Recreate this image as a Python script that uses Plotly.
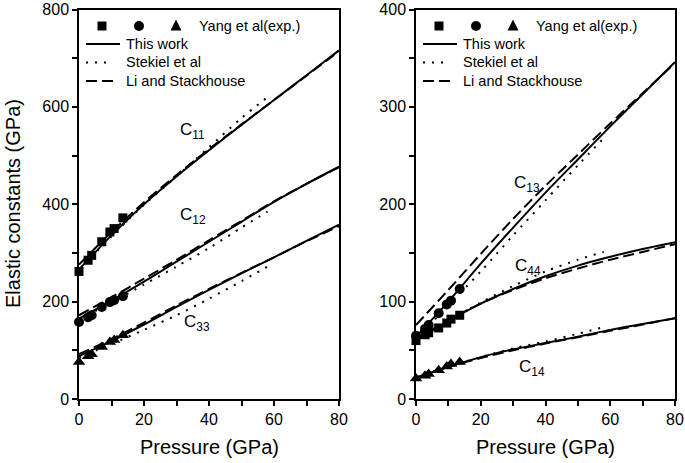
import plotly.graph_objects as go

W, H = 685, 463

# ---------------- data ----------------
P_line = [0, 10, 20, 30, 40, 50, 60, 70, 80]
P_stek = [0, 10, 20, 30, 40, 50, 58]
P_exp = [0, 2.8, 3.9, 7.0, 9.5, 10.8, 13.5]

# left panel (C11, C12, C33)
c11_this = [266, 336, 400, 457, 511, 563, 614, 665, 716]
c11_li = [276, 343, 404, 460, 513, 564, 614, 664, 714]
c11_stek = [264, 334, 399, 457, 517, 577, 620]
c12_this = [165, 202, 241, 282, 323, 364, 405, 442, 477]
c12_li = [172, 209, 247, 286, 326, 366, 406, 442, 476]
c12_stek = [163, 198, 235, 272, 310, 352, 385]
c33_this = [88, 119, 153, 189, 224, 258, 291, 325, 358]
c33_li = [92, 123, 157, 192, 226, 259, 291, 324, 355]
c33_stek = [85, 113, 142, 172, 206, 242, 272]

c11_exp = [262, 285, 295, 323, 343, 350, 372]
c12_exp = [158, 168, 172, 189, 199, 203, 211]
c33_exp = [76, 88, 92, 107, 117, 121, 131]

# right panel (C13, C44, C14)
c13_this = [64, 100, 139, 176, 212, 246, 280, 313, 346]
c13_li = [76, 112, 149, 185, 219, 251, 283, 314, 345]
c13_stek = [62, 96, 131, 168, 204, 240, 268]
c44_this = [60, 80, 98, 113, 126, 137, 146, 154, 161]
c44_li = [62, 81, 98, 112, 124, 134, 143, 151, 159]
c44_stek = [60, 80, 99, 116, 131, 143, 151]
c14_this = [22, 33, 43, 51, 57.5, 64, 71, 77, 83]
c14_li = [22, 33, 42, 50, 57, 63.5, 70, 76.5, 83]
c14_stek = [22, 33, 43, 52, 59, 67, 74]

c13_exp = [65, 72, 76, 88, 97, 101, 113]
c44_exp = [60, 66, 68, 73, 78, 82, 86]
c14_exp = [21, 24, 25.6, 29.5, 33.5, 36, 38]

# curve labels: (text, P, value)
labels_left = [("C<sub>11</sub>", 34.8, 550), ("C<sub>12</sub>", 35.1, 375), ("C<sub>33</sub>", 36.3, 156)]
labels_right = [("C<sub>13</sub>", 34.3, 221), ("C<sub>44</sub>", 34.6, 136), ("C<sub>14</sub>", 35.8, 32)]

legend_exp = "Yang et al(exp.)"
legend_lines = ["This work", "Stekiel et al", "Li and Stackhouse"]

# ---------------- styles ----------------
FONT = "Liberation Sans, Arial, sans-serif"
DOT = "2px,7px"
DASH = "11px,5px"
LW = 2

fig = go.Figure()


def add_panel(xa, ya, this, li, stek, exps, symbols):
    for s in this:
        fig.add_trace(go.Scatter(x=P_line, y=s, mode="lines", xaxis=xa, yaxis=ya,
                                 line=dict(color="black", width=LW, shape="spline", smoothing=0.8),
                                 showlegend=False))
    for s in li:
        fig.add_trace(go.Scatter(x=P_line, y=s, mode="lines", xaxis=xa, yaxis=ya,
                                 line=dict(color="black", width=LW, dash=DASH, shape="spline", smoothing=0.8),
                                 showlegend=False))
    for s in stek:
        fig.add_trace(go.Scatter(x=P_stek, y=s, mode="lines", xaxis=xa, yaxis=ya,
                                 line=dict(color="black", width=LW, dash=DOT, shape="spline", smoothing=0.8),
                                 showlegend=False))
    for s, sym in zip(exps, symbols):
        size = {"square": 9, "circle": 10, "triangle-up": 11}[sym]
        fig.add_trace(go.Scatter(x=P_exp, y=s, mode="markers", xaxis=xa, yaxis=ya,
                                 marker=dict(symbol=sym, size=size, color="black"),
                                 cliponaxis=False, showlegend=False))


add_panel("x", "y", [c11_this, c12_this, c33_this], [c11_li, c12_li, c33_li],
          [c11_stek, c12_stek, c33_stek], [c11_exp, c12_exp, c33_exp],
          ["square", "circle", "triangle-up"])
add_panel("x2", "y2", [c13_this, c44_this, c14_this], [c13_li, c44_li, c14_li],
          [c13_stek, c44_stek, c14_stek], [c13_exp, c44_exp, c14_exp],
          ["circle", "square", "triangle-up"])

annotations = []
for txt, px_, v in labels_left:
    annotations.append(dict(text=txt, x=px_, y=v, xref="x", yref="y", showarrow=False,
                            xanchor="center", yanchor="middle",
                            font=dict(family=FONT, size=17, color="black")))
for txt, px_, v in labels_right:
    annotations.append(dict(text=txt, x=px_, y=v, xref="x2", yref="y2", showarrow=False,
                            xanchor="center", yanchor="middle",
                            font=dict(family=FONT, size=17, color="black")))


def fx(p):
    return p / W


def fy(p):
    return 1 - p / H


shapes = []


def add_legend(x0):
    # x0: left pixel of the axes
    ym = 26
    s = 4.5
    cx = x0 + 23
    shapes.append(dict(type="rect", xref="paper", yref="paper", x0=fx(cx - s), x1=fx(cx + s),
                       y0=fy(ym + s), y1=fy(ym - s), fillcolor="black", line=dict(width=0)))
    cx = x0 + 60
    r = 5
    shapes.append(dict(type="circle", xref="paper", yref="paper", x0=fx(cx - r), x1=fx(cx + r),
                       y0=fy(ym + r), y1=fy(ym - r), fillcolor="black", line=dict(width=0)))
    cx = x0 + 97
    t = 5.5
    path = "M {},{} L {},{} L {},{} Z".format(fx(cx - t), fy(ym + t - 1), fx(cx + t), fy(ym + t - 1),
                                               fx(cx), fy(ym - t - 1))
    shapes.append(dict(type="path", xref="paper", yref="paper", path=path,
                       fillcolor="black", line=dict(width=0)))
    annotations.append(dict(text=legend_exp, x=fx(x0 + 118), y=fy(ym), xref="paper", yref="paper",
                            xanchor="left", yanchor="middle", showarrow=False,
                            font=dict(family=FONT, size=14.5, color="black")))
    rows = [44, 62.5, 81]
    dashes = ["solid", DOT, DASH]
    ends = [41, 34, 36]
    for yy, name, d, e in zip(rows, legend_lines, dashes, ends):
        shapes.append(dict(type="line", xref="paper", yref="paper", x0=fx(x0 + 7), x1=fx(x0 + e),
                           y0=fy(yy), y1=fy(yy), line=dict(color="black", width=LW, dash=d)))
        annotations.append(dict(text=name, x=fx(x0 + 45), y=fy(yy), xref="paper", yref="paper",
                                xanchor="left", yanchor="middle", showarrow=False,
                                font=dict(family=FONT, size=14.5, color="black")))


add_legend(79)
add_legend(416)

# axis titles
annotations.append(dict(text="Elastic constants (GPa)", x=fx(13), y=fy(204), xref="paper", yref="paper",
                        xanchor="center", yanchor="middle",
                        textangle=-90, showarrow=False, font=dict(family=FONT, size=20, color="black")))
annotations.append(dict(text="Pressure (GPa)", x=fx(209), y=fy(447), xref="paper", yref="paper",
                        xanchor="center", yanchor="middle",
                        showarrow=False, font=dict(family=FONT, size=20, color="black")))
annotations.append(dict(text="Pressure (GPa)", x=fx(545.5), y=fy(447), xref="paper", yref="paper",
                        xanchor="center", yanchor="middle",
                        showarrow=False, font=dict(family=FONT, size=20, color="black")))

axis_common = dict(showgrid=False, zeroline=False, showline=True, linecolor="black", linewidth=1.5,
                   mirror=True, ticks="outside", ticklen=5, tickwidth=1.5, tickcolor="black",
                   automargin=False,
                   tickfont=dict(family=FONT, size=16, color="black"))

ydom = [1 - 399 / H, 1 - 9.5 / H]
fig.update_layout(
    width=W, height=H, autosize=False, margin=dict(l=0, r=0, t=0, b=0, pad=0),
    paper_bgcolor="white", plot_bgcolor="white", showlegend=False,
    xaxis=dict(domain=[79 / W, 339 / W], range=[0, 80], tickvals=[0, 20, 40, 60, 80],
               minor=dict(tickvals=[10, 30, 50, 70], ticks="outside", ticklen=5, tickwidth=1.5, tickcolor="black"),
               anchor="y", **axis_common),
    yaxis=dict(domain=ydom, range=[0, 800], tickvals=[0, 200, 400, 600, 800],
               minor=dict(tickvals=[100, 300, 500, 700], ticks="outside", ticklen=5, tickwidth=1.5, tickcolor="black"),
               anchor="x", **axis_common),
    xaxis2=dict(domain=[416 / W, 675 / W], range=[0, 80], tickvals=[0, 20, 40, 60, 80],
                minor=dict(tickvals=[10, 30, 50, 70], ticks="outside", ticklen=5, tickwidth=1.5, tickcolor="black"),
                anchor="y2", **axis_common),
    yaxis2=dict(domain=ydom, range=[0, 400], tickvals=[0, 100, 200, 300, 400],
                minor=dict(tickvals=[50, 150, 250, 350], ticks="outside", ticklen=5, tickwidth=1.5, tickcolor="black"),
                anchor="x2", **axis_common),
    annotations=annotations, shapes=shapes,
)

fig.write_html("out.html", config={"displayModeBar": False},
               post_script="document.body.style.margin='0px';")
